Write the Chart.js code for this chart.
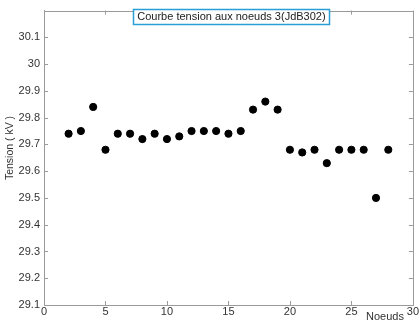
<!DOCTYPE html>
<html><head><meta charset="utf-8">
<script src="https://cdn.jsdelivr.net/npm/chart.js@4"></script>
<style>html,body{margin:0;padding:0;background:#fff}#wrap{width:419px;height:327px}</style>
</head><body><div id="wrap"><canvas id="c" width="419" height="327"></canvas></div>
<script>
const nodes = [2,3,4,5,6,7,8,9,10,11,12,13,14,15,16,17,18,19,20,21,22,23,24,25,26,27,28];
const tension = [29.74,29.75,29.84,29.68,29.74,29.74,29.72,29.74,29.72,29.73,29.75,29.75,29.75,29.74,29.75,29.83,29.86,29.83,29.68,29.67,29.68,29.63,29.68,29.68,29.68,29.50,29.68];
const titleText = 'Courbe tension aux noeuds 3(JdB302)';
const xTitle = 'Noeuds';
const yTitle = 'Tension ( kV )';
const FONT = '"Liberation Sans", Arial, sans-serif';

const decor = {
  id: 'decor',
  afterDraw(chart) {
    const ctx = chart.ctx, a = chart.chartArea;
    const xs = chart.scales.x, ys = chart.scales.y;
    ctx.save();
    ctx.strokeStyle = '#9a9a9a';
    ctx.lineWidth = 1;
    ctx.strokeRect(Math.round(a.left) + 0.5, Math.round(a.top) + 0.5, Math.round(a.right - a.left), Math.round(a.bottom - a.top));
    ctx.beginPath();
    xs.ticks.forEach(t => {
      const p = Math.round(xs.getPixelForValue(t.value)) + 0.5;
      ctx.moveTo(p, a.bottom); ctx.lineTo(p, a.bottom - 4);
      ctx.moveTo(p, a.top); ctx.lineTo(p, a.top + 4);
    });
    ys.ticks.forEach(t => {
      if (t.value > 30.15) return;
      const p = Math.round(ys.getPixelForValue(t.value)) + 0.5;
      ctx.moveTo(a.left, p); ctx.lineTo(a.left + 4, p);
      ctx.moveTo(a.right, p); ctx.lineTo(a.right - 4, p);
    });
    ctx.stroke();
    // title box
    ctx.font = '11px ' + FONT;
    const w = ctx.measureText(titleText).width;
    const cx = (a.left + a.right) / 2 + 3;
    const bx = Math.round(cx - w / 2 - 4), bw = Math.round(w + 8);
    ctx.fillStyle = '#fff';
    ctx.fillRect(bx, 9, bw, 15);
    ctx.strokeStyle = '#2a9fd6';
    ctx.lineWidth = 1.5;
    ctx.strokeRect(bx + 0.5, 9.5, bw, 15);
    ctx.fillStyle = '#222';
    ctx.textBaseline = 'middle';
    ctx.textAlign = 'center';
    ctx.fillText(titleText, cx, 17);
    // x title
    ctx.font = '11px ' + FONT;
    ctx.fillStyle = '#333';
    ctx.textAlign = 'right';
    ctx.fillText(xTitle, a.right - 9, 317);
    // y title
    ctx.translate(10, 148);
    ctx.rotate(-Math.PI / 2);
    ctx.textAlign = 'center';
    ctx.font = '10.5px ' + FONT;
    ctx.fillText(yTitle, 0, 0);
    ctx.restore();
  }
};

new Chart(document.getElementById('c'), {
  type: 'scatter',
  data: {
    datasets: [{
      data: nodes.map((n, i) => ({x: n, y: tension[i]})),
      backgroundColor: '#000',
      borderColor: '#000',
      pointRadius: 3.6,
      pointHoverRadius: 3.6
    }]
  },
  options: {
    responsive: false,
    animation: false,
    events: [],
    layout: {padding: {top: 3, right: 6, left: 0, bottom: 0}},
    plugins: {legend: {display: false}, tooltip: {enabled: false}},
    scales: {
      x: {
        type: 'linear', min: 0, max: 30,
        afterFit(s) { s.height = 22; },
        ticks: {stepSize: 5, color: '#333', font: {size: 11, family: FONT}, padding: 0, maxRotation: 0},
        grid: {display: true, drawOnChartArea: false, drawTicks: false, color: '#9a9a9a'},
        border: {display: true, color: '#9a9a9a'}
      },
      y: {
        type: 'linear', min: 29.1, max: 30.2,
        afterFit(s) { s.width = 44; },
        ticks: {
          stepSize: 0.1, color: '#333', font: {size: 11, family: FONT}, padding: 4,
          callback: v => (v > 30.15 ? '' : (Math.round(v * 10) / 10).toString())
        },
        grid: {display: true, drawOnChartArea: false, drawTicks: false, color: '#9a9a9a'},
        border: {display: true, color: '#9a9a9a'}
      }
    }
  },
  plugins: [decor]
});
</script>
</body></html>
